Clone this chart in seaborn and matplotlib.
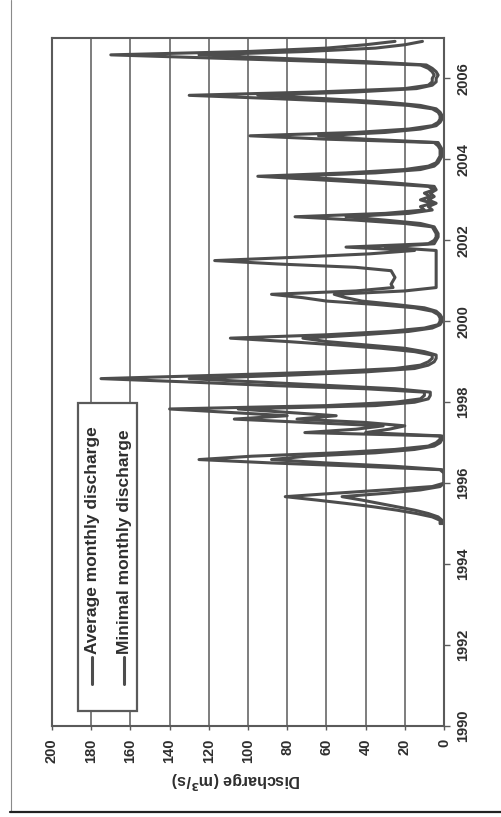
import matplotlib
matplotlib.use("Agg")
import matplotlib.pyplot as plt
import numpy as np
import pandas as pd
import seaborn as sns
from matplotlib.lines import Line2D
from matplotlib.patches import Rectangle

# Monthly discharge (m3/s), January..December of each year
avg_1995 = [2, 2, 6, 14, 24, 36, 50, 65, 81, 56, 30, 6]
avg_1996 = [0, 0, 0, 0, 2, 42, 88, 125, 98, 55, 25, 8]
avg_1997 = [4, 2, 2, 71, 45, 31, 70, 107, 80, 110, 140, 60]
avg_1998 = [25, 12, 10, 10, 40, 90, 130, 175, 115, 60, 25, 12]
avg_1999 = [8, 6, 6, 15, 32, 55, 80, 109, 60, 28, 10, 3]
avg_2000 = [2, 2, 3, 6, 15, 35, 60, 72, 88, 45, 26, 27]
avg_2001 = [26, 25, 26, 27, 45, 85, 117, 75, 38, 15, 50, 8]
avg_2002 = [5, 4, 4, 5, 6, 20, 45, 76, 30, 10, 12, 6]
avg_2003 = [12, 7, 10, 5, 8, 35, 65, 95, 50, 20, 8, 4]
avg_2004 = [3, 2, 2, 2, 3, 5, 60, 99, 45, 18, 6, 3]
avg_2005 = [2, 2, 3, 6, 18, 45, 85, 130, 65, 20, 8, 6]
avg_2006 = [6, 5, 6, 8, 12, 60, 115, 170, 100, 60, 40, 25]

min_1995 = [1, 1, 3, 8, 15, 24, 33, 42, 52, 30, 12, 2]
min_1996 = [0, 0, 0, 0, 1, 25, 60, 88, 70, 35, 15, 5]
min_1997 = [2, 1, 1, 40, 28, 20, 40, 75, 55, 80, 105, 35]
min_1998 = [15, 8, 7, 7, 25, 60, 95, 130, 80, 40, 15, 8]
min_1999 = [5, 4, 4, 10, 20, 40, 60, 72, 42, 18, 6, 2]
min_2000 = [1, 1, 2, 4, 10, 25, 42, 50, 56, 20, 4, 4]
min_2001 = [4, 4, 4, 4, 4, 4, 4, 4, 4, 4, 30, 5]
min_2002 = [4, 3, 3, 4, 5, 12, 30, 50, 18, 6, 8, 4]
min_2003 = [8, 5, 7, 4, 5, 25, 50, 80, 35, 12, 5, 3]
min_2004 = [2, 1, 1, 1, 2, 3, 40, 64, 30, 12, 4, 2]
min_2005 = [1, 1, 2, 4, 12, 30, 60, 95, 45, 14, 6, 4]
min_2006 = [4, 3, 4, 6, 9, 40, 85, 125, 70, 35, 20, 11]

years = list(range(1995, 2007))
avg_years = [avg_1995, avg_1996, avg_1997, avg_1998, avg_1999, avg_2000,
             avg_2001, avg_2002, avg_2003, avg_2004, avg_2005, avg_2006]
min_years = [min_1995, min_1996, min_1997, min_1998, min_1999, min_2000,
             min_2001, min_2002, min_2003, min_2004, min_2005, min_2006]

series_names = ["Average monthly discharge", "Minimal monthly discharge"]
discharge_ticks = list(range(0, 201, 20))
year_ticks = list(range(1990, 2007, 2))

rows = []
for name, table in zip(series_names, [avg_years, min_years]):
    for yr, vals in zip(years, table):
        for m, v in enumerate(vals):
            rows.append({"series": name, "time": yr + m / 12.0, "discharge": v})
df = pd.DataFrame(rows)

sns.set_theme(style="white")
plt.rcParams["font.family"] = ["Liberation Sans", "DejaVu Sans"]
plt.rcParams["font.weight"] = "bold"

W, H = 501, 817
fig = plt.figure(figsize=(W / 100, H / 100), dpi=100)
fig.patch.set_facecolor("white")

def fx(px):
    return px / W

def fy(py):
    return 1 - py / H

left, right, top, bottom = 52, 444, 38, 726
ax = fig.add_axes([fx(left), fy(bottom), (right - left) / W, (bottom - top) / H])

line_col = "#4d4d4d"
grid_col = "#5a5a5a"
text_col = "#2e2e2e"

sns.lineplot(data=df, x="discharge", y="time", hue="series", orient="y",
             sort=False, estimator=None, palette=[line_col, line_col],
             linewidth=2.2, legend=False, ax=ax)

ax.set_xlim(200, 0)
ax.set_ylim(1990, 2007)
ax.set_xticks(discharge_ticks)
ax.set_yticks(year_ticks)
ax.yaxis.tick_right()
ax.set_xlabel("")
ax.set_ylabel("")
ax.grid(axis="x", color=grid_col, linewidth=1.1)
ax.grid(axis="y", visible=False)
for s in ax.spines.values():
    s.set_visible(True)
    s.set_color(grid_col)
    s.set_linewidth(1.5)

ax.tick_params(axis="x", bottom=True, length=3, width=1, color=grid_col,
               pad=6, labelsize=10.5, labelcolor=text_col, labelrotation=90)
ax.tick_params(axis="y", right=True, left=False, length=4, width=1,
               color=grid_col, pad=5, labelsize=10.5, labelcolor=text_col)
for lbl in ax.get_yticklabels():
    lbl.set_rotation(90)
    lbl.set_va("center")
    lbl.set_ha("left")
for lbl in ax.get_xticklabels():
    lbl.set_va("top")
    lbl.set_ha("center")

# axis title
fig.text(fx(236), fy(780), "Discharge (m$^3$/s)", rotation=180, ha="center",
         va="center", fontsize=11.5, fontweight="bold", color=text_col)

# legend box
lx0, lx1, ly0, ly1 = 78, 137, 403, 711
fig.add_artist(Rectangle((fx(lx0), fy(ly1)), (lx1 - lx0) / W, (ly1 - ly0) / H,
                         transform=fig.transFigure, facecolor="white",
                         edgecolor=grid_col, linewidth=1.6, zorder=5))
for cx, name in zip([92, 124], series_names):
    fig.add_artist(Line2D([fx(cx), fx(cx)], [fy(684), fy(657)],
                          transform=fig.transFigure, color=line_col,
                          linewidth=2.2, zorder=6))
    fig.text(fx(cx), fy(654), name, rotation=90, ha="center", va="bottom",
             fontsize=12.5, fontweight="bold", color=text_col, zorder=6)

# page border
fig.add_artist(Line2D([fx(11), fx(11)], [fy(0), fy(812)],
                      transform=fig.transFigure, color="#8a8a8a", linewidth=0.8))
fig.add_artist(Line2D([fx(10), fx(501)], [fy(812), fy(812)],
                      transform=fig.transFigure, color="#222222", linewidth=1.6))

fig.savefig("out.png", dpi=100, facecolor="white")
